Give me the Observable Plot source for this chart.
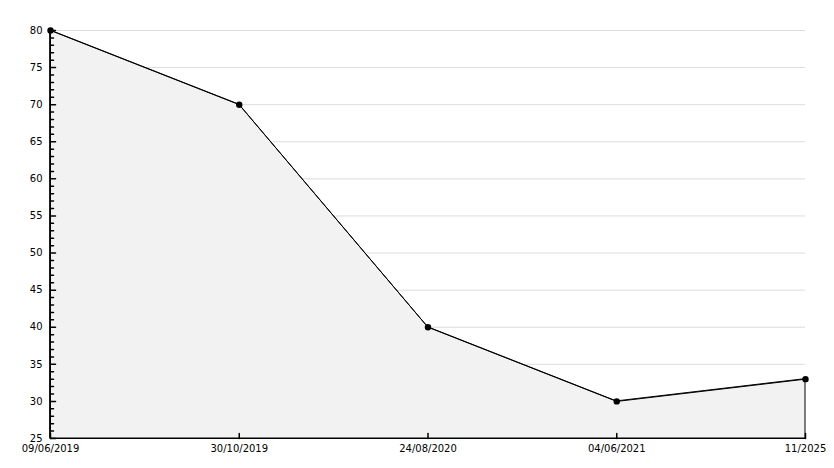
<!DOCTYPE html>
<html>
<head>
<meta charset="utf-8">
<script src="https://cdn.jsdelivr.net/npm/d3@7"></script>
<script src="https://cdn.jsdelivr.net/npm/@observablehq/plot@0.6"></script>
<style>
  html, body { margin: 0; padding: 0; background: #fff; }
  #chart svg { display: block; }
</style>
</head>
<body>
<div id="chart"></div>
<script>
const dates = ["09/06/2019", "30/10/2019", "24/08/2020", "04/06/2021", "11/2025"];
const values = [80, 70, 40, 30, 33];
const majorTicks = [25, 30, 35, 40, 45, 50, 55, 60, 65, 70, 75, 80];
const minorTicks = d3.range(25, 81, 1).filter(v => v % 5 !== 0);

const data = dates.map((d, i) => ({date: d, value: values[i]}));
const font = "DejaVu Sans, Verdana, sans-serif";
const tickShape = {draw(context, l) { context.moveTo(0, 0); context.lineTo(0, -l); }};

const chart = Plot.plot({
  width: 834,
  height: 468,
  marginLeft: 50,
  marginRight: 29,
  marginTop: 30,
  marginBottom: 30,
  style: {fontFamily: font, fontSize: "10px", color: "#000", background: "#fff"},
  x: {type: "point", domain: dates, padding: 0, round: false, label: null},
  y: {domain: [25, 80], label: null},
  marks: [
    Plot.gridY(majorTicks.filter(v => v > 25), {stroke: "#dcdcdc", strokeOpacity: 1}),
    Plot.areaY(data, {x: "date", y1: 25, y2: "value", fill: "#f2f2f2", stroke: "#000", strokeWidth: 1}),
    Plot.lineY(data, {x: "date", y: "value", stroke: "#000", strokeWidth: 1}),
    Plot.ruleY([25], {stroke: "#000"}),
    Plot.ruleX([dates[0]], {stroke: "#000"}),
    Plot.vector(majorTicks, {x: () => dates[0], y: d => d, length: 5, rotate: 90, anchor: "start", shape: tickShape, stroke: "#000"}),
    Plot.vector(minorTicks, {x: () => dates[0], y: d => d, length: 3, rotate: 90, anchor: "start", shape: tickShape, stroke: "#000"}),
    Plot.vector(dates, {x: d => d, y: () => 25, length: 5, rotate: 0, anchor: "start", shape: tickShape, stroke: "#000"}),
    Plot.axisY({ticks: majorTicks, tickSize: 0, tickPadding: 8, fill: "#000", fontSize: 10}),
    Plot.axisX({tickSize: 0, tickPadding: 6, fill: "#000", fontSize: 10}),
    Plot.dot(data, {x: "date", y: "value", r: 3.2, fill: "#000", stroke: "none"})
  ]
});
document.getElementById("chart").appendChild(chart);
</script>
</body>
</html>
